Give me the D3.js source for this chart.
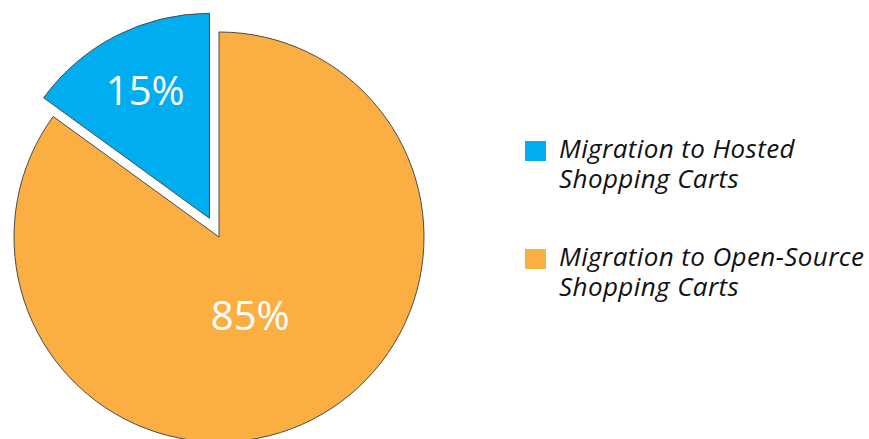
<!DOCTYPE html>
<html><head><meta charset="utf-8">
<script src="https://cdn.jsdelivr.net/npm/d3@7"></script>
<style>html,body{margin:0;padding:0;background:#fff;}svg{display:block;}</style>
</head><body>
<svg id="c" width="869" height="439"></svg>
<script>
const categories = ["Migration to Hosted Shopping Carts", "Migration to Open-Source Shopping Carts"];
const legendLines = [["Migration to Hosted", "Shopping Carts"], ["Migration to Open-Source", "Shopping Carts"]];
const values = [15, 85];
const labels = ["15%", "85%"];
const colors = ["#00AEEF", "#FBAF43"];

const svg = d3.select("#c");
const cx = 219, cy = 237, r = 205, explode = 21;

const pie = d3.pie().sort(null).value(d => d)(values);
const arc = d3.arc().innerRadius(0).outerRadius(r);
const g = svg.append("g").attr("transform", `translate(${cx},${cy})`);
const shift = -2 * Math.PI * values[0] / d3.sum(values);

pie.forEach((p, i) => {
  const sa = p.startAngle + shift, ea = p.endAngle + shift;
  const m = (sa + ea) / 2;
  const off = i === 0 ? explode : 0;
  const dx = Math.sin(m) * off, dy = -Math.cos(m) * off;
  g.append("path")
    .attr("d", arc({startAngle: sa, endAngle: ea}))
    .attr("transform", `translate(${dx},${dy})`)
    .attr("fill", colors[i])
    .attr("stroke", "#4a4a4a")
    .attr("stroke-width", 1);
  const lr = i === 0 ? 0.69 * r : 0.42 * r;
  const lm = i === 0 ? m : m + 0.1;
  g.append("text")
    .attr("x", Math.sin(lm) * lr + dx)
    .attr("y", -Math.cos(lm) * lr + dy)
    .attr("text-anchor", "middle")
    .attr("dy", "0.33em")
    .attr("fill", "#fff")
    .attr("font-family", "'Open Sans', sans-serif")
    .attr("font-size", 40)
    .text(labels[i]);
});

const leg = svg.append("g").attr("transform", "translate(525,141)");
legendLines.forEach((lines, i) => {
  const y0 = i * 108;
  leg.append("rect").attr("x", 0).attr("y", y0).attr("width", 21).attr("height", 20).attr("fill", colors[i]);
  lines.forEach((l, j) => {
    leg.append("text")
      .attr("x", 34).attr("y", y0 + 17 + j * 30)
      .attr("font-family", "'Open Sans', sans-serif")
      .attr("font-style", "italic")
      .attr("font-size", 26)
      .attr("letter-spacing", 0.4)
      .attr("fill", "#111")
      .text(l);
  });
});
</script>
</body></html>
